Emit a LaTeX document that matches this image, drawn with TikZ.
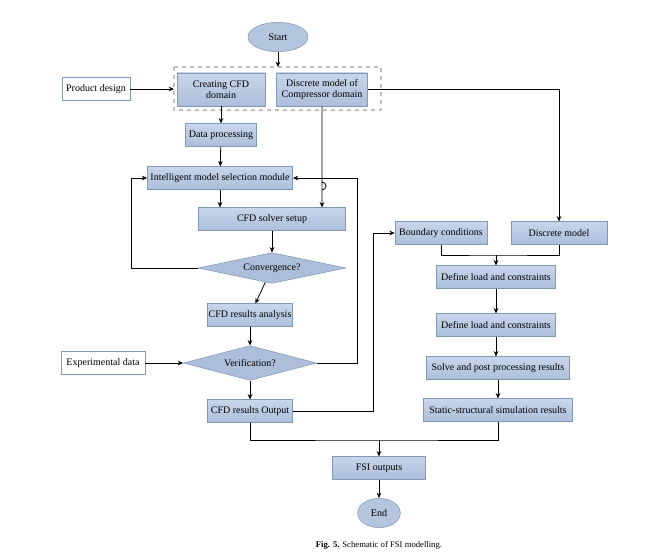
\documentclass[tikz,border=0pt]{standalone}
\usepackage{fontspec}
\setmainfont{Liberation Serif}
\usetikzlibrary{shapes.geometric,arrows.meta}
\definecolor{boxfill}{RGB}{172,190,218}
\definecolor{boxtop}{RGB}{200,214,235}
\definecolor{boxline}{RGB}{130,152,186}
\tikzset{
  blk/.style={draw=boxline,top color=boxtop,bottom color=boxfill,minimum height=17pt,inner sep=1pt,align=center,font=\fontsize{7.5}{8.5}\selectfont},
  inp/.style={draw=boxline,fill=white,minimum height=17pt,inner sep=1pt,font=\fontsize{7.5}{8.5}\selectfont},
  dec/.style={diamond,aspect=4.6,draw=boxline,fill=boxfill,inner sep=0pt,font=\fontsize{7.5}{8.5}\selectfont},
  term/.style={ellipse,draw=boxline,fill=boxfill!90!white,inner sep=0pt,font=\fontsize{7.5}{8.5}\selectfont},
  flow/.style={-{Stealth[length=4pt,width=3.5pt]},line width=0.6pt},
  ln/.style={line width=0.6pt}
}
\begin{document}
\begin{tikzpicture}[x=0.75pt,y=0.75pt,yscale=-1,xscale=1]
\useasboundingbox (0,0) rectangle (658,558);

% Terminals
\node [term,minimum width=45pt,minimum height=22pt] (start) at (278,37) {Start};
\node [term,minimum width=32pt,minimum height=22pt] (end) at (379,513) {End};

% Dashed group
\draw [dashed,draw=gray!50,line width=0.8pt] (174,67) rectangle (381,110);
\coordinate (grptop) at (278,67);
\coordinate (grpleft) at (174,89);
\node [blk,minimum width=66pt,minimum height=25pt] (cfddom) at (221,89.5) {Creating CFD\\domain};
\node [blk,minimum width=68pt,minimum height=25pt] (compdom) at (322,89.5) {Discrete model of\\Compressor domain};
\node [inp,minimum width=51pt] (product) at (96,89) {Product design};

% CFD branch
\node [blk,minimum width=53pt] (dataproc) at (221,135) {Data processing};
\node [blk,minimum width=109pt] (select) at (220,178) {Intelligent model selection module};
\node [blk,minimum width=110pt] (solver) at (272,219) {CFD solver setup};
\node [dec,minimum width=111pt,minimum height=23pt] (converge) at (272,268) {Convergence?};
\node [blk,minimum width=64pt] (analysis) at (250,315) {CFD results analysis};
\node [dec,minimum width=100pt,minimum height=26pt] (verify) at (250,363) {Verification?};
\node [inp,minimum width=63pt] (expdata) at (103,363) {Experimental data};
\node [blk,minimum width=64pt] (cfdout) at (250,411) {CFD results Output};

% Structural branch
\node [blk,minimum width=69pt] (boundary) at (441,233) {Boundary conditions};
\node [blk,minimum width=72pt] (discrete) at (559,233) {Discrete model};
\node [blk,minimum width=89pt] (loadA) at (496,277) {Define load and constraints};
\node [blk,minimum width=89pt] (loadB) at (496,325) {Define load and constraints};
\node [blk,minimum width=107pt] (solve) at (498,368) {Solve and post processing results};
\node [blk,minimum width=112pt] (static) at (498,410) {Static-structural simulation results};
\node [blk,minimum width=70pt] (fsi) at (379,468) {FSI outputs};

% Caption
\node [font=\fontsize{6.5}{7}\selectfont] (caption) at (379,545) {\textbf{Fig. 5.} Schematic of FSI modelling.};

% Connectors
\draw [flow] (start) -- (grptop);
\draw [flow] (product) -- (grpleft);
\draw [flow] (cfddom) -- (dataproc);
\draw [flow] (dataproc) -- (select);
\draw [flow] (compdom.south) -- (322,182) arc (-90:90:4) -- (322,174) -- (compdom.south |- solver.north);
\draw [flow] (compdom.east) -| (discrete.north);
\draw [flow] (select.south -| 220,0) -- (select.south |- solver.north);
\draw [flow] (solver) -- (converge);
\draw [flow] (converge.west) -- (131,268) |- (select.west);
\draw [flow] (converge) -- (analysis);
\draw [flow] (analysis) -- (verify);
\draw [flow] (expdata) -- (verify);
\draw [flow] (verify.east) -- (357,363) |- (select.east);
\draw [flow] (verify) -- (cfdout);
\draw [flow] (cfdout.east) -- (373,411) |- (boundary.west);
\draw [ln] (boundary.south) |- (496,255) -| (discrete.south);
\draw [flow] (496,255) -- (loadA);
\draw [flow] (loadA) -- (loadB);
\draw [flow] (loadB) -- (loadB |- solve.north);
\draw [flow] (solve) -- (static);
\draw [ln] (cfdout.south) |- (379,440) -| (static.south);
\draw [flow] (379,440) -- (fsi);
\draw [flow] (fsi) -- (end);
\end{tikzpicture}
\end{document}
